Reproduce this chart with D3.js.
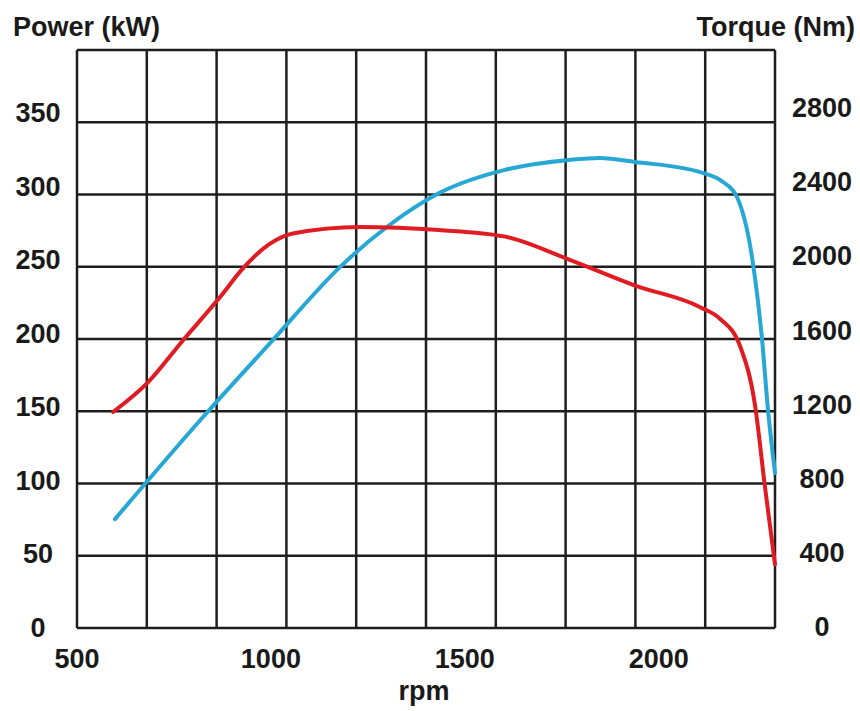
<!DOCTYPE html>
<html>
<head>
<meta charset="utf-8">
<script src="https://cdn.jsdelivr.net/npm/d3@7"></script>
<style>
  body { margin: 0; background: #fff; }
  text { font-family: 'Liberation Sans', Arial, sans-serif; font-weight: bold; fill: #1a1a1a; }
</style>
</head>
<body>
<div id="chart"></div>
<script>
// power curve (kW) vs engine speed
const powerRpm = [593, 683, 773, 869, 925, 998, 1057, 1230, 1434, 1601, 1769, 1939, 2107, 2158, 2210, 2248, 2274, 2300];
const powerKw  = [149.5, 170, 199, 229, 248, 266, 273, 277.5, 275.4, 271, 255, 237, 222, 214, 195, 155, 98, 44];

// torque curve (Nm) vs engine speed
const torqueRpm = [598, 825, 1005, 1178, 1299, 1434, 1601, 1769, 1849, 1939, 2107, 2166, 2202, 2243, 2266, 2282, 2300];
const torqueNm  = [603, 1168, 1594, 1998, 2220, 2408, 2535, 2591, 2602, 2580, 2524, 2469, 2386, 2021, 1611, 1207, 858];

const xTicks = [500, 1000, 1500, 2000];
const powerTicks = [0, 50, 100, 150, 200, 250, 300, 350];
const torqueTicks = [0, 400, 800, 1200, 1600, 2000, 2400, 2800];

const width = 860, height = 711;
const margin = { top: 50, right: 85, bottom: 83, left: 77 };

const svg = d3.select('#chart')
  .append('svg')
  .attr('width', width)
  .attr('height', height);

svg.append('rect').attr('width', width).attr('height', height).attr('fill', '#fff');

const x = d3.scaleLinear()
  .domain([500, 2300])
  .range([margin.left, width - margin.right]);

const yPower = d3.scaleLinear()
  .domain([0, 400])
  .range([height - margin.bottom, margin.top]);

const yTorque = d3.scaleLinear()
  .domain([0, 3200])
  .range([height - margin.bottom, margin.top]);

const gridColor = '#1e1e1e';

// vertical grid: 10 equal columns
const xGrid = d3.range(0, 11).map(i => 500 + i * 180);
svg.append('g')
  .selectAll('line')
  .data(xGrid)
  .join('line')
  .attr('x1', d => x(d))
  .attr('x2', d => x(d))
  .attr('y1', yPower(0))
  .attr('y2', yPower(400))
  .attr('stroke', gridColor)
  .attr('stroke-width', 2.5);

// horizontal grid every 50 kW
svg.append('g')
  .selectAll('line')
  .data(d3.range(0, 401, 50))
  .join('line')
  .attr('x1', x(500))
  .attr('x2', x(2300))
  .attr('y1', d => yPower(d))
  .attr('y2', d => yPower(d))
  .attr('stroke', gridColor)
  .attr('stroke-width', 2.5);

// left axis labels
svg.append('g')
  .selectAll('text')
  .data(powerTicks)
  .join('text')
  .attr('x', 38)
  .attr('y', d => yPower(d) - d / 350 * 9)
  .attr('text-anchor', 'middle')
  .attr('dominant-baseline', 'central')
  .style('font-size', '27px')
  .text(d => d);

// right axis labels
svg.append('g')
  .selectAll('text')
  .data(torqueTicks)
  .join('text')
  .attr('x', 822)
  .attr('y', d => yTorque(d) - 1 - d / 2800 * 13)
  .attr('text-anchor', 'middle')
  .attr('dominant-baseline', 'central')
  .style('font-size', '27px')
  .text(d => d);

// x axis labels
svg.append('g')
  .selectAll('text')
  .data(xTicks)
  .join('text')
  .attr('x', d => x(d))
  .attr('y', 668)
  .attr('text-anchor', 'middle')
  .style('font-size', '27px')
  .text(d => d);

svg.append('text')
  .attr('x', 424)
  .attr('y', 700)
  .attr('text-anchor', 'middle')
  .style('font-size', '27px')
  .text('rpm');

svg.append('text')
  .attr('x', 13)
  .attr('y', 36)
  .style('font-size', '27px')
  .text('Power (kW)');

svg.append('text')
  .attr('x', 855)
  .attr('y', 36)
  .attr('text-anchor', 'end')
  .style('font-size', '27px')
  .text('Torque (Nm)');

// curves
const torqueLine = d3.line()
  .x(d => x(d[0]))
  .y(d => yTorque(d[1]))
  .curve(d3.curveMonotoneX);

const powerLine = d3.line()
  .x(d => x(d[0]))
  .y(d => yPower(d[1]))
  .curve(d3.curveMonotoneX);

svg.append('path')
  .datum(d3.zip(torqueRpm, torqueNm))
  .attr('d', torqueLine)
  .attr('fill', 'none')
  .attr('stroke', '#27a8d4')
  .attr('stroke-width', 4)
  .attr('stroke-linecap', 'round');

svg.append('path')
  .datum(d3.zip(powerRpm, powerKw))
  .attr('d', powerLine)
  .attr('fill', 'none')
  .attr('stroke', '#e01b22')
  .attr('stroke-width', 4)
  .attr('stroke-linecap', 'round');
</script>
</body>
</html>
